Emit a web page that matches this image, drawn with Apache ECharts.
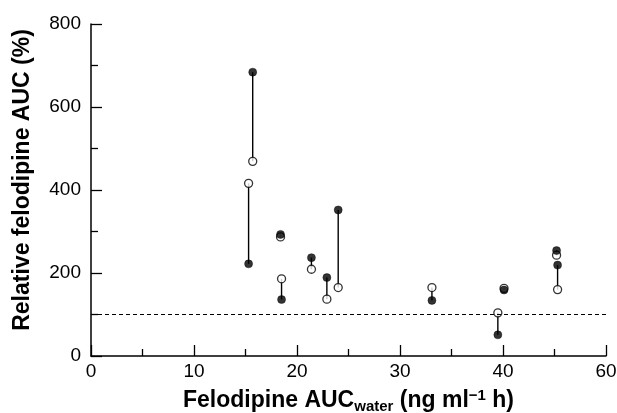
<!DOCTYPE html>
<html>
<head>
<meta charset="utf-8">
<script src="https://cdn.jsdelivr.net/npm/echarts@6/dist/echarts.min.js"></script>
<style>
html,body{margin:0;padding:0;background:#fff;}
#chart{width:617px;height:413px;}
</style>
</head>
<body>
<div id="chart"></div>
<script>
// Subject data: x = felodipine AUC with water, open / filled = relative AUC (%)
const subjectX = [15.7, 15.3, 18.4, 18.5, 21.4, 22.9, 24.0, 33.1, 39.5, 40.1, 45.2, 45.3];
const openY    = [469, 416, 287, 186, 209, 137, 165, 165, 104, 163, 243, 160];
const filledY  = [684, 222, 293, 136, 237, 189, 352, 134, 51, 159, 254, 219];
const referenceLevel = 100;
const xTickValues = [0, 10, 20, 30, 40, 50];
const xTickLabels = ['0', '10', '20', '30', '40', '60'];
const yTickValues = [0, 200, 400, 600, 800];

const FONT = 'Liberation Sans, Arial, Helvetica, sans-serif';
const chart = echarts.init(document.getElementById('chart'), null, {renderer: 'canvas'});

const openData = subjectX.map((x, i) => [x, openY[i]]);
const filledData = subjectX.map((x, i) => [x, filledY[i]]);
const pairData = subjectX.map((x, i) => [x, openY[i], filledY[i]]);

const option = {
  backgroundColor: '#fff',
  animation: false,
  grid: {left: 91, right: 11, top: 24, bottom: 57, containLabel: false, outerBoundsMode: 'none'},
  xAxis: {
    type: 'value', min: 0, max: 50, interval: 10,
    axisLine: {show: true, lineStyle: {color: '#000', width: 1.5}},
    axisTick: {show: true, inside: true, length: 11, lineStyle: {color: '#000', width: 1.3}},
    minorTick: {show: true, splitNumber: 2, length: 7, lineStyle: {color: '#000', width: 1.3}},
    splitLine: {show: false},
    axisLabel: {
      color: '#000', fontFamily: FONT, fontSize: 19, margin: 6,
      formatter: v => { const k = xTickValues.indexOf(v); return k >= 0 ? xTickLabels[k] : ''; }
    },
    name: '{b|Felodipine AUC}{sub|water}{b| (ng ml}{sup|−1}{b| h)}',
    nameLocation: 'middle', nameGap: 32,
    nameTextStyle: {
      color: '#000', fontFamily: FONT,
      rich: {
        b: {fontSize: 23, fontWeight: 'bold', fontFamily: FONT, color: '#000', lineHeight: 26, verticalAlign: 'middle'},
        sub: {fontSize: 15, fontWeight: 'bold', fontFamily: FONT, color: '#000', lineHeight: 26, verticalAlign: 'bottom', padding: [9, 0, 0, 0]},
        sup: {fontSize: 15, fontWeight: 'bold', fontFamily: FONT, color: '#000', lineHeight: 26, verticalAlign: 'top', padding: [0, 0, 9, 0]}
      }
    }
  },
  yAxis: {
    type: 'value', min: 0, max: 800, interval: 200,
    axisLine: {show: true, lineStyle: {color: '#000', width: 1.5}},
    axisTick: {show: true, inside: true, length: 11, lineStyle: {color: '#000', width: 1.3}},
    minorTick: {show: true, splitNumber: 2, length: 7, lineStyle: {color: '#000', width: 1.3}},
    splitLine: {show: false},
    axisLabel: {
      color: '#000', fontFamily: FONT, fontSize: 19, margin: 10,
      formatter: v => yTickValues.indexOf(v) >= 0 ? String(v) : ''
    },
    name: 'Relative felodipine AUC (%)',
    nameLocation: 'middle', nameGap: 57, nameRotate: 90,
    nameTextStyle: {color: '#000', fontFamily: FONT, fontSize: 23, fontWeight: 'bold', padding: [0, 0, 0, 20]}
  },
  series: [
    {
      type: 'custom', z: 2, silent: true,
      data: pairData,
      encode: {x: 0, y: [1, 2]},
      renderItem: (params, api) => {
        const p1 = api.coord([api.value(0), api.value(1)]);
        const p2 = api.coord([api.value(0), api.value(2)]);
        return {type: 'line', shape: {x1: p1[0], y1: p1[1], x2: p2[0], y2: p2[1]},
                style: {stroke: '#000', lineWidth: 1.4}};
      },
      markLine: {
        silent: true, symbol: 'none', label: {show: false},
        lineStyle: {color: '#000', width: 1.2, type: [4, 3]},
        data: [{yAxis: referenceLevel}]
      }
    },
    {
      type: 'scatter', z: 3, data: openData, symbol: 'circle', symbolSize: 8,
      itemStyle: {color: '#fff', borderColor: '#000', borderWidth: 1.3}
    },
    {
      type: 'scatter', z: 4, data: filledData, symbol: 'circle', symbolSize: 8,
      itemStyle: {color: '#000', borderColor: '#000', borderWidth: 0.5}
    }
  ]
};
chart.setOption(option);
</script>
</body>
</html>
